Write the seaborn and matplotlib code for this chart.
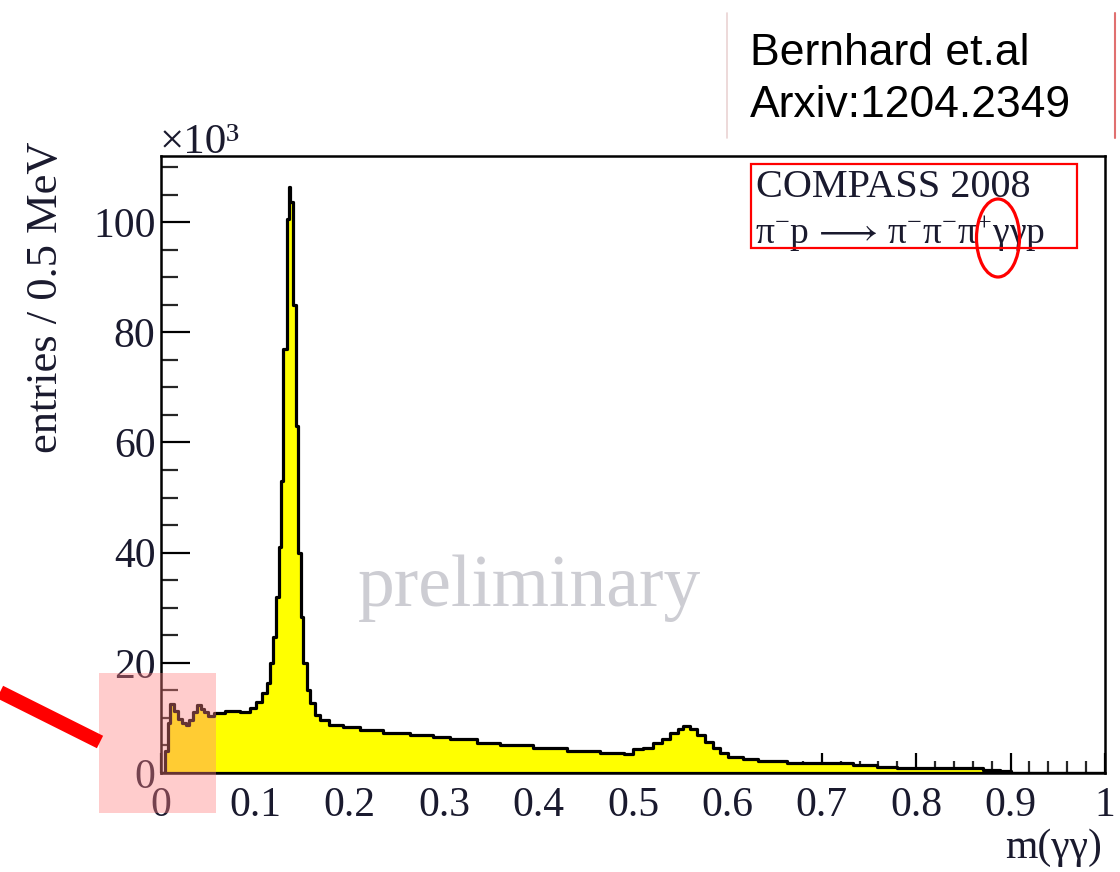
import matplotlib
matplotlib.use("Agg")
import numpy as np
import pandas as pd
import matplotlib.pyplot as plt
from matplotlib.patches import Rectangle, Ellipse
from matplotlib.lines import Line2D
from matplotlib.ticker import MultipleLocator, FuncFormatter
import seaborn as sns

# m(gamma gamma) histogram: variable-width bin edges (GeV) and entries (x10^3)
bin_edges = [
    0.000, 0.004, 0.007, 0.010, 0.014, 0.018, 0.022, 0.026, 0.030, 0.034,
    0.038, 0.042, 0.046, 0.050, 0.056, 0.068, 0.084, 0.094, 0.101, 0.107,
    0.112, 0.1155, 0.119, 0.122, 0.125, 0.1275, 0.1296, 0.1331, 0.1356, 0.1362,
    0.140, 0.1425, 0.1455, 0.148, 0.1508, 0.1543, 0.158, 0.163, 0.168, 0.178,
    0.193, 0.211, 0.235, 0.264, 0.288, 0.306, 0.335, 0.359, 0.394, 0.430,
    0.465, 0.490, 0.500, 0.511, 0.521, 0.531, 0.539, 0.548, 0.553, 0.560,
    0.568, 0.576, 0.585, 0.592, 0.601, 0.617, 0.632, 0.663, 0.684, 0.733,
    0.758, 0.780, 0.839, 0.871, 0.889, 0.900, 1.000,
]
entries_k = [
    0, 4, 9, 12.5, 11.2, 9.8, 9.0, 8.7, 9.6, 11.0,
    12.4, 11.6, 11.0, 10.4, 10.9, 11.2, 11.1, 11.8, 12.9, 14.5,
    16.3, 20, 24.7, 32, 41, 53, 77, 100.5, 106.4, 103.6,
    85, 63, 40, 28.4, 20, 15, 12.7, 10.5, 9.6, 8.7,
    8.3, 7.8, 7.3, 6.9, 6.5, 6.1, 5.5, 5.1, 4.5, 4.0,
    3.7, 3.4, 4.3, 4.6, 5.4, 6.2, 7.2, 8.0, 8.5, 7.9,
    6.9, 5.7, 4.5, 3.6, 2.9, 2.5, 2.1, 1.9, 1.8, 1.45,
    1.15, 0.9, 0.85, 0.6, 0.4, 0,
]
x_ticks = [0.0, 0.1, 0.2, 0.3, 0.4, 0.5, 0.6, 0.7, 0.8, 0.9, 1.0]
y_ticks = [0, 20, 40, 60, 80, 100]

sns.set_theme(style="white")
SERIF = ["Liberation Serif", "DejaVu Serif"]
SANS = ["Liberation Sans", "DejaVu Sans"]
plt.rcParams["font.family"] = SERIF
plt.rcParams["mathtext.fontset"] = "custom"
plt.rcParams["mathtext.rm"] = "Liberation Serif"
plt.rcParams["mathtext.it"] = "Liberation Serif:italic"
plt.rcParams["mathtext.bf"] = "Liberation Serif:bold"

W, H = 1120, 872
fig = plt.figure(figsize=(W / 100, H / 100), dpi=100)
fig.patch.set_facecolor("white")


def fx(px):
    return px / W


def fy(py):
    return 1 - py / H


ax = fig.add_axes([fx(161), fy(773), fx(1105) - fx(161), fy(156) - fy(773)])
ax.set_facecolor("white")

hist_df = pd.DataFrame({
    "m": [0.5 * (lo + hi) for lo, hi in zip(bin_edges[:-1], bin_edges[1:])],
    "entries": entries_k,
})
sns.histplot(data=hist_df, x="m", weights="entries", bins=list(bin_edges),
             element="step", fill=True, color="#ffff00", alpha=1.0,
             edgecolor="black", linewidth=2.3, ax=ax)

ax.set_xlim(0, 1)
ax.set_ylim(0, 112)
ax.set_xlabel("")
ax.set_ylabel("")

for s in ax.spines.values():
    s.set_linewidth(1.8)
    s.set_color("black")

ax.set_xticks(x_ticks)
ax.set_yticks(y_ticks)
ax.xaxis.set_minor_locator(MultipleLocator(0.02))
ax.yaxis.set_minor_locator(MultipleLocator(5))
ax.xaxis.set_major_formatter(FuncFormatter(lambda v, p: f"{v:g}"))
ax.tick_params(axis="x", which="major", direction="in", length=14.5, width=1.6,
               labelsize=30, pad=10, colors="black", bottom=True, top=False)
ax.tick_params(axis="x", which="minor", direction="in", length=8.5, width=1.6,
               bottom=True, top=False)
ax.tick_params(axis="y", which="major", direction="in", length=21, width=1.6,
               labelsize=30, pad=4, colors="black", left=True, right=False)
ax.tick_params(axis="y", which="minor", direction="in", length=12, width=1.6,
               left=True, right=False)
for lab in ax.get_xticklabels() + ax.get_yticklabels():
    lab.set_color("#1a1a2e")

# watermark
ax.text(0.39, 0.30, "preliminary", transform=ax.transAxes, fontsize=53,
        color="#cdcdd3", ha="center", va="center", family=SERIF)

# axis titles and exponent
fig.text(fx(46), fy(297), "entries / 0.5 MeV", rotation=90, fontsize=32,
         ha="center", va="center", color="#1a1a2e", family=SERIF)
fig.text(fx(1102), fy(858), "m(γγ)", fontsize=30, ha="right", va="baseline",
         color="#1a1a2e", family=SERIF)
fig.text(fx(160), fy(153), "×10³", fontsize=31, ha="left", va="baseline",
         color="#1a1a2e", family=SERIF)

# reaction label
fig.text(fx(756), fy(197), "COMPASS 2008", fontsize=29, ha="left",
         va="baseline", color="#1a1a2e", family=SERIF)
fig.text(fx(755), fy(243),
         r"$\mathrm{\pi^{-}p\,\longrightarrow\,\pi^{-}\pi^{-}\pi^{+}\gamma\gamma p}$",
         fontsize=27, ha="left", va="baseline", color="#1a1a2e")

# reference note
fig.text(fx(750), fy(65), "Bernhard et.al", fontsize=32, ha="left",
         va="baseline", color="black", family=SANS)
fig.text(fx(750), fy(117), "Arxiv:1204.2349", fontsize=32, ha="left",
         va="baseline", color="black", family=SANS)
fig.add_artist(Line2D([fx(727), fx(727)], [fy(13), fy(138)],
                      transform=fig.transFigure, color="#ead3d3", lw=1.2))
fig.add_artist(Line2D([fx(1115), fx(1115)], [fy(13), fy(138)],
                      transform=fig.transFigure, color="#e07070", lw=1.5))

# highlight marks
fig.add_artist(Rectangle((fx(751), fy(248)), fx(1077) - fx(751),
                         fy(164) - fy(248), transform=fig.transFigure,
                         fill=False, edgecolor="red", lw=1.6, zorder=10))
fig.add_artist(Ellipse((fx(998), fy(238)), fx(43), 78 / H,
                       transform=fig.transFigure, fill=False,
                       edgecolor="red", lw=2.3, zorder=10))
fig.add_artist(Rectangle((fx(99), fy(813)), fx(216) - fx(99),
                         fy(673) - fy(813), transform=fig.transFigure,
                         facecolor=(1.0, 0.5, 0.5), alpha=0.4,
                         edgecolor="none", zorder=10))
fig.add_artist(Line2D([fx(0), fx(100)], [fy(692), fy(742)],
                      transform=fig.transFigure, color="red", lw=10,
                      solid_capstyle="butt", zorder=10))

fig.savefig("out.png", dpi=100, facecolor="white")
